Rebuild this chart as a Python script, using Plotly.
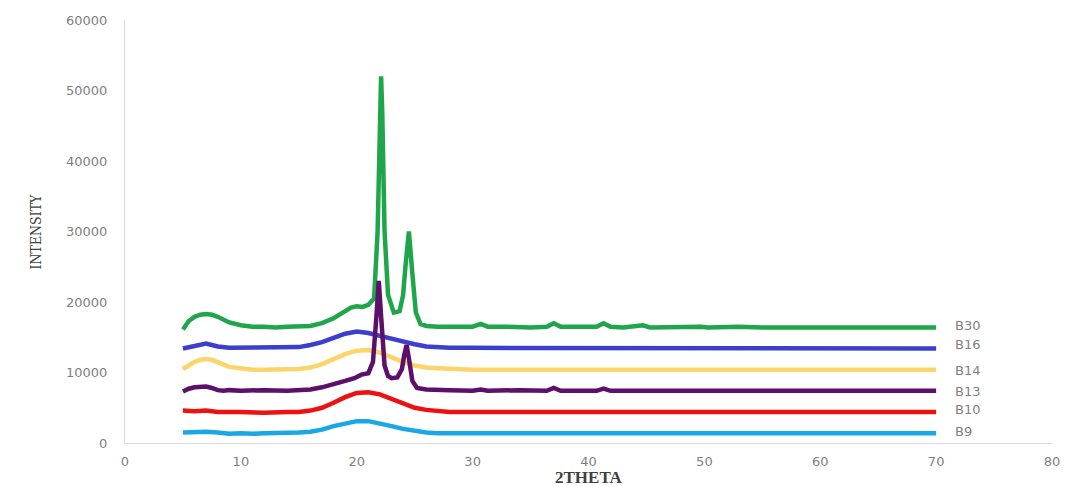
import plotly.graph_objects as go

# ---------------- data ----------------
x_b30 = [5, 5.5, 6, 6.5, 7, 7.5, 8, 8.5, 9, 10, 11, 12, 13, 14, 15, 16, 17, 18, 19, 19.5,
         20, 20.5, 21, 21.5, 21.8, 22.0, 22.1, 22.2, 22.4, 22.7, 23.2, 23.7, 24.0, 24.2, 24.5,
         24.8, 25.1, 25.5, 26, 27, 28, 29, 30, 30.7, 31.3, 33, 35, 36.4, 37.0, 37.6, 39, 40.7,
         41.3, 41.9, 43, 44.7, 45.3, 47, 49.7, 50.3, 53, 55, 60, 65, 70]
y_b30 = [16100, 17300, 17900, 18200, 18300, 18200, 17900, 17500, 17100, 16700, 16500, 16500,
         16400, 16500, 16500, 16600, 17000, 17700, 18700, 19200, 19400, 19300, 19600, 20500,
         30000, 47000, 52000, 47000, 30000, 21000, 18500, 18700, 21000, 25000, 30000, 24000,
         18500, 16900, 16600, 16500, 16500, 16400, 16500, 16900, 16500, 16500, 16400, 16500,
         17000, 16500, 16500, 16500, 17000, 16500, 16400, 16700, 16400, 16500, 16500, 16400,
         16500, 16400, 16400, 16400, 16400]

x_b16 = [5, 5.5, 6, 6.5, 7, 7.5, 8, 9, 10, 12, 14, 15, 16, 17, 18, 19, 20, 21, 22, 23, 24,
         25, 26, 27, 28, 30, 35, 40, 50, 60, 70]
y_b16 = [13400, 13600, 13800, 14000, 14100, 13900, 13700, 13500, 13500, 13500, 13500, 13600,
         13900, 14300, 14900, 15500, 15800, 15600, 15200, 14800, 14300, 14000, 13700, 13600,
         13500, 13500, 13500, 13500, 13500, 13400, 13400]

x_b14 = [5, 5.5, 6, 6.5, 7, 7.5, 8, 8.5, 9, 10, 11, 12, 14, 15, 16, 17, 18, 19, 20, 21, 22,
         23, 24, 25, 26, 27, 28, 30, 35, 40, 50, 60, 70]
y_b14 = [10500, 11000, 11500, 11800, 11900, 11800, 11500, 11100, 10800, 10600, 10400, 10400,
         10400, 10500, 10700, 11200, 11900, 12600, 13100, 13200, 12800, 12100, 11500, 11000,
         10700, 10600, 10500, 10400, 10400, 10400, 10400, 10400, 10400]

x_b13 = [5, 5.5, 6, 6.5, 7, 7.5, 8, 8.5, 9, 10, 12, 14, 16, 17, 18, 19, 19.8, 20.4, 21, 21.4,
         21.7, 21.9, 22.1, 22.4, 22.7, 23.0, 23.5, 23.9, 24.1, 24.3, 24.5, 24.8, 25.2, 26,
         28, 30, 30.7, 31.3, 34, 36.4, 37.0, 37.6, 40.7, 41.3, 41.9, 45, 50, 55, 60, 65, 70]
y_b13 = [7300, 7700, 7900, 8000, 8000, 7800, 7500, 7400, 7500, 7400, 7500, 7400, 7600, 7900,
         8300, 8800, 9200, 9700, 9900, 11500, 18000, 23000, 18000, 11000, 9500, 9200, 9300,
         10500, 12500, 13900, 12000, 8800, 7800, 7600, 7500, 7400, 7600, 7400, 7500, 7400,
         7800, 7400, 7400, 7700, 7400, 7400, 7400, 7400, 7400, 7400, 7400]

x_b10 = [5, 6, 7, 8, 10, 12, 14, 15, 16, 17, 18, 19, 20, 21, 22, 23, 24, 25, 26, 27, 28, 30,
         35, 40, 50, 60, 70]
y_b10 = [4600, 4500, 4600, 4400, 4400, 4300, 4400, 4400, 4600, 5000, 5700, 6500, 7100, 7200,
         6900, 6300, 5600, 5000, 4700, 4500, 4400, 4400, 4400, 4400, 4400, 4400, 4400]

x_b9 = [5, 6, 7, 8, 9, 10, 11, 12, 14, 15, 16, 17, 18, 19, 20, 21, 22, 23, 24, 25, 26, 27,
        28, 30, 35, 40, 50, 60, 70]
y_b9 = [1500, 1600, 1600, 1500, 1300, 1400, 1300, 1400, 1400, 1500, 1600, 1900, 2400, 2800,
        3100, 3100, 2800, 2400, 2000, 1700, 1500, 1400, 1400, 1400, 1400, 1400, 1400, 1400, 1400]

series_names = ["B30", "B16", "B14", "B13", "B10", "B9"]
series_x = [x_b30, x_b16, x_b14, x_b13, x_b10, x_b9]
series_y = [y_b30, y_b16, y_b14, y_b13, y_b10, y_b9]
series_colors = ["#1fa64a", "#3b3fcc", "#fbd56a", "#5c0f6b", "#ee1111", "#1aa7e6"]
label_shift = [2, 4, -1, -1, 2, 2]  # pixel nudge of end labels

x_ticks = [0, 10, 20, 30, 40, 50, 60, 70, 80]
y_ticks = [0, 10000, 20000, 30000, 40000, 50000, 60000]

# ---------------- figure ----------------
fig = go.Figure()
for name, xs, ys, col in zip(series_names, series_x, series_y, series_colors):
    fig.add_trace(go.Scatter(x=xs, y=ys, mode="lines", name=name,
                             line=dict(color=col, width=4.5), showlegend=False))

tick_font = dict(family="DejaVu Sans, Open Sans, sans-serif", size=13, color="#7f7f7f")

for name, xs, ys, sh in zip(series_names, series_x, series_y, label_shift):
    fig.add_annotation(x=xs[-1], y=ys[-1], text=name, showarrow=False, xanchor="left",
                       xshift=17, yshift=sh, font=tick_font)

fig.add_annotation(xref="paper", yref="paper", x=0.5, y=0, yshift=-34, text="<b>2THETA</b>",
                   showarrow=False, xanchor="center", yanchor="middle",
                   font=dict(family="Liberation Serif, serif", size=17, color="#404040"))
fig.add_annotation(xref="paper", yref="paper", x=0, xshift=-90, y=0.5, text="INTENSITY",
                   textangle=-90, showarrow=False, xanchor="center", yanchor="middle",
                   font=dict(family="DejaVu Serif Condensed, Liberation Serif, serif", size=14,
                             color="#404040"))

# page has an 8px body margin, so the figure is sized/offset to compensate
fig.update_layout(
    width=1062, height=479,
    margin=dict(l=117, r=18, t=12, b=44),
    paper_bgcolor="white", plot_bgcolor="white",
    xaxis=dict(range=[0, 80], tickvals=x_ticks, showgrid=False, zeroline=False,
               showline=True, linecolor="#d9d9d9", linewidth=1, ticks="",
               tickfont=tick_font, ticklabelstandoff=6, automargin=False),
    yaxis=dict(range=[0, 60000], tickvals=y_ticks, tickformat="d", showgrid=False,
               zeroline=False, showline=True, linecolor="#d9d9d9", linewidth=1, ticks="",
               tickfont=tick_font, ticklabelstandoff=14, automargin=False),
)

fig.write_html("out.html")
